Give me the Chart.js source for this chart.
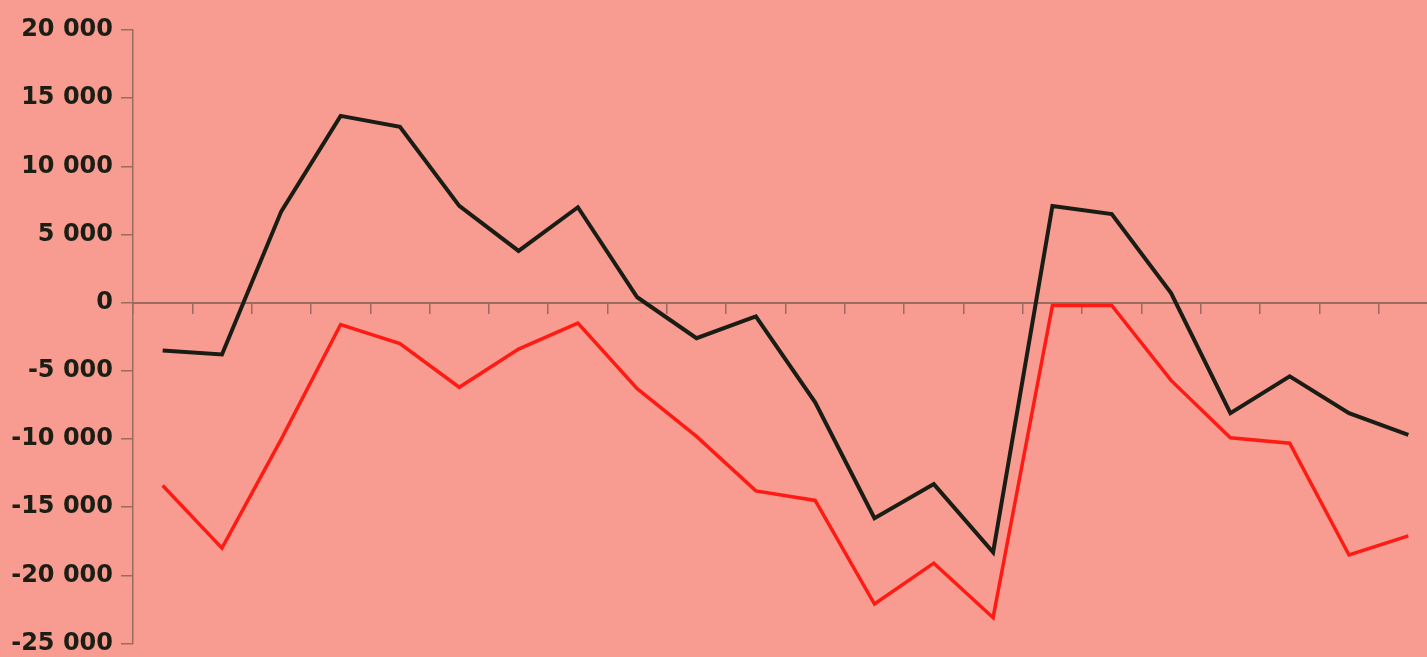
<!DOCTYPE html>
<html>
<head>
<meta charset="utf-8">
<script src="https://cdn.jsdelivr.net/npm/chart.js@4.4.1/dist/chart.umd.min.js"></script>
<style>
    html, body { margin: 0; padding: 0; overflow: hidden; background: #f89b90; }
    #wrap { width: 1440px; height: 666px; position: relative; }
</style>
</head>
<body>
<div id="wrap"><canvas id="balanceChart"></canvas></div>
<script>
// Chart data
const periods = ['1', '2', '3', '4', '5', '6', '7', '8', '9', '10', '11',
                 '12', '13', '14', '15', '16', '17', '18', '19', '20', '21', '22'];

const blackSeries = [-3500, -3800, 6700, 13700, 12900, 7100, 3800, 7000, 400, -2600, -1000,
                     -7300, -15800, -13300, -18300, 7100, 6500, 700, -8100, -5400, -8100, -9700];

const redSeries = [-13400, -18000, -10000, -1600, -3000, -6200, -3400, -1500, -6300, -9800, -13800,
                   -14500, -22100, -19100, -23100, -200, -200, -5700, -9900, -10300, -18500, -17100];

const yTicks = [20000, 15000, 10000, 5000, 0, -5000, -10000, -15000, -20000, -25000];

const axisColor = '#9a6b5f';
const labelColor = '#1b1e14';

function formatThousands(value) {
    const sign = value < 0 ? '-' : '';
    const abs = Math.abs(value);
    if (abs < 1000) return sign + abs;
    const rest = String(abs % 1000).padStart(3, '0');
    return sign + Math.floor(abs / 1000) + ' ' + rest;
}

const ctx = document.getElementById('balanceChart').getContext('2d');

new Chart(ctx, {
    type: 'line',
    data: {
        labels: periods,
        datasets: [
            {
                label: 'Black',
                data: blackSeries,
                borderColor: '#1a1d13',
                borderWidth: 4,
                pointRadius: 0,
                tension: 0,
                fill: false
            },
            {
                label: 'Red',
                data: redSeries,
                borderColor: '#ff1a14',
                borderWidth: 3.5,
                pointRadius: 0,
                tension: 0,
                fill: false
            }
        ]
    },
    options: {
        responsive: true,
        maintainAspectRatio: false,
        animation: false,
        layout: {
            padding: { top: 30, bottom: 5, left: 0, right: 2 }
        },
        plugins: {
            legend: { display: false },
            tooltip: { enabled: false }
        },
        scales: {
            x: {
                type: 'category',
                offset: true,
                position: { y: 0 },
                afterFit: function(scale) { scale.height = 0; },
                grid: {
                    offset: true,
                    drawOnChartArea: false,
                    drawTicks: true,
                    tickLength: 10,
                    color: axisColor,
                    lineWidth: 1.5
                },
                border: { display: true, color: axisColor, width: 2 },
                ticks: { display: false }
            },
            y: {
                min: -25000,
                max: 20000,
                afterFit: function(scale) { scale.width = 133; },
                afterBuildTicks: function(scale) {
                    scale.ticks = yTicks.map(v => ({ value: v }));
                },
                grid: {
                    drawOnChartArea: false,
                    drawTicks: true,
                    tickLength: 12,
                    color: axisColor,
                    lineWidth: 1.5
                },
                border: { display: true, color: axisColor, width: 1.5 },
                ticks: {
                    padding: 8,
                    color: labelColor,
                    font: { family: 'DejaVu Sans', size: 24, weight: 'bold' },
                    callback: function(value) { return formatThousands(value); }
                }
            }
        }
    }
});
</script>
</body>
</html>
